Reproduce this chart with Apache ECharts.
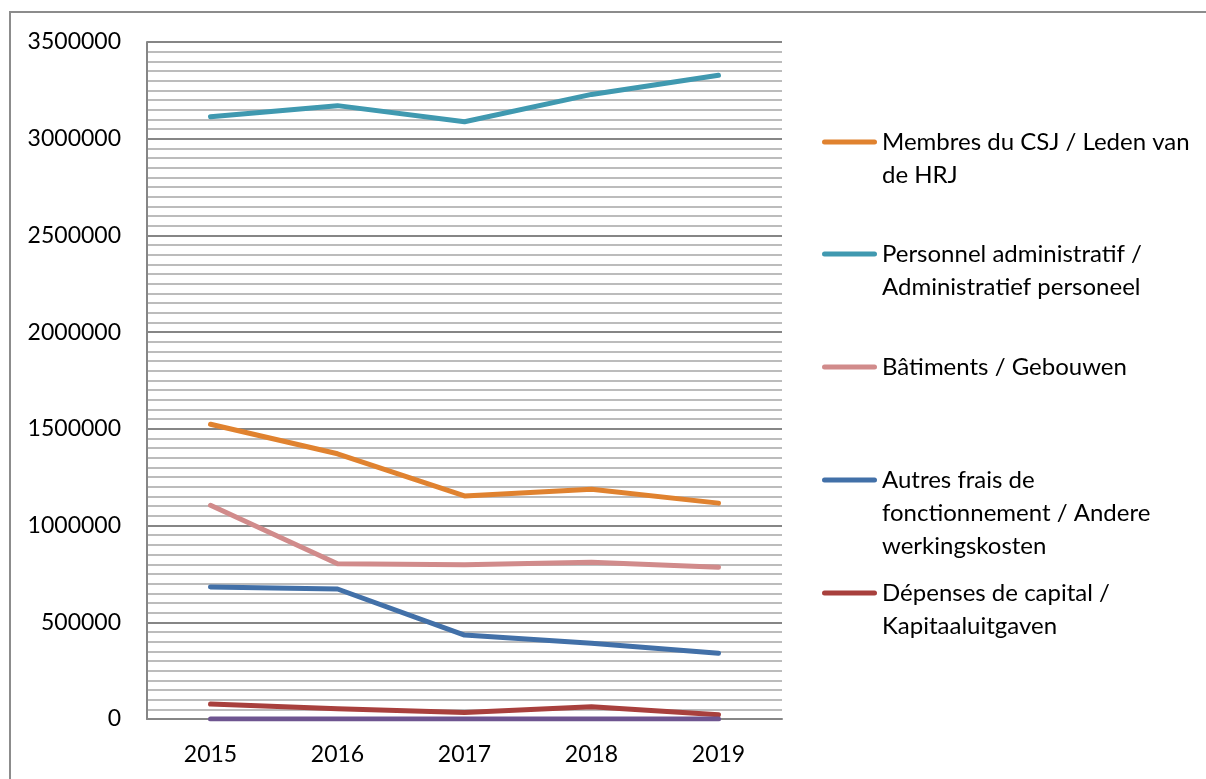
<!DOCTYPE html>
<html>
<head>
<meta charset="utf-8">
<script src="https://cdn.jsdelivr.net/npm/echarts@6/dist/echarts.min.js"></script>
<style>
  html, body { margin: 0; padding: 0; background: #fff; }
  #chart { width: 1206px; height: 779px; }
</style>
</head>
<body>
<div id="chart"></div>
<script>
// years on the x axis
const years = ['2015', '2016', '2017', '2018', '2019'];

// series values
const membres = [1524000, 1371000, 1153000, 1188000, 1116000];
const personnel = [3114000, 3171000, 3088000, 3229000, 3328000];
const batiments = [1105000, 803000, 797000, 810000, 784000];
const autres = [683000, 672000, 434000, 391000, 340000];
const depenses = [77000, 53000, 34000, 63000, 22000];
const autre6 = [0, 0, 0, 0, 0];

const seriesNames = [
  'Membres du CSJ / Leden van de HRJ',
  'Personnel administratif / Administratief personeel',
  'Bâtiments / Gebouwen',
  'Autres frais de fonctionnement / Andere werkingskosten',
  'Dépenses de capital / Kapitaaluitgaven',
  'Série 6'
];
// how the legend text wraps in the picture
const legendLines = [
  ['Membres du CSJ / Leden van', 'de HRJ'],
  ['Personnel administratif /', 'Administratief personeel'],
  ['Bâtiments / Gebouwen'],
  ['Autres frais de', 'fonctionnement / Andere', 'werkingskosten'],
  ['Dépenses de capital /', 'Kapitaaluitgaven']
];
const colors = ['#e0822f', '#4099b0', '#d18b8b', '#4270a8', '#a8403d', '#6e5590'];
const values = [membres, personnel, batiments, autres, depenses, autre6];

const FONT = 'Lato';
const LH = 33;
const iconY = [142, 254, 367, 480, 593];
// thick line with round ends, used as legend marker
const lineIcon = 'path://M2.5,0 L52.5,0 A2.5,2.5 0 0 1 52.5,5 L2.5,5 A2.5,2.5 0 0 1 2.5,0 Z';

const chart = echarts.init(document.getElementById('chart'));

// one legend per entry so the marker sits on the first text line
const legends = legendLines.map((lines, i) => {
  const n = lines.length;
  return {
    data: [seriesNames[i]],
    left: 822,
    top: iconY[i] - (2 * n - 1) * LH / 2,
    padding: 0,
    icon: lineIcon,
    itemWidth: 55,
    itemHeight: 5,
    itemGap: 0,
    selectedMode: false,
    formatter: () => '\n'.repeat(n - 1) + lines.join('\n'),
    textStyle: { fontFamily: FONT, fontSize: 24, color: '#000', lineHeight: LH }
  };
});

const option = {
  animation: false,
  textStyle: { fontFamily: FONT },
  graphic: [{
    type: 'rect',
    shape: { x: 10, y: 12, width: 1250, height: 820 },
    style: { fill: 'none', stroke: '#8c8c8c', lineWidth: 2 },
    silent: true
  }],
  legend: legends,
  grid: { left: 147, right: 424, top: 42, bottom: 60, containLabel: false },
  xAxis: {
    type: 'category',
    data: years,
    boundaryGap: true,
    axisLine: { lineStyle: { color: '#868686', width: 2 } },
    axisTick: { show: false },
    axisLabel: { fontSize: 23, color: '#000', margin: 24, fontFamily: FONT }
  },
  yAxis: {
    type: 'value',
    min: 0,
    max: 3500000,
    interval: 500000,
    axisLine: { show: true, lineStyle: { color: '#868686', width: 2 } },
    axisTick: { show: false },
    axisLabel: {
      fontSize: 23, color: '#000', margin: 26, fontFamily: FONT,
      formatter: (v) => String(v)
    },
    splitLine: { show: true, lineStyle: { color: '#868686', width: 2 } },
    minorTick: { show: false, splitNumber: 10 },
    minorSplitLine: { show: true, lineStyle: { color: '#bcbcbc', width: 2 } }
  },
  series: values.map((v, i) => ({
    name: seriesNames[i],
    type: 'line',
    data: v,
    symbol: 'none',
    showSymbol: false,
    color: colors[i],
    lineStyle: { width: 5, color: colors[i], cap: 'round', join: 'round' }
  }))
};

chart.setOption(option);
</script>
</body>
</html>
